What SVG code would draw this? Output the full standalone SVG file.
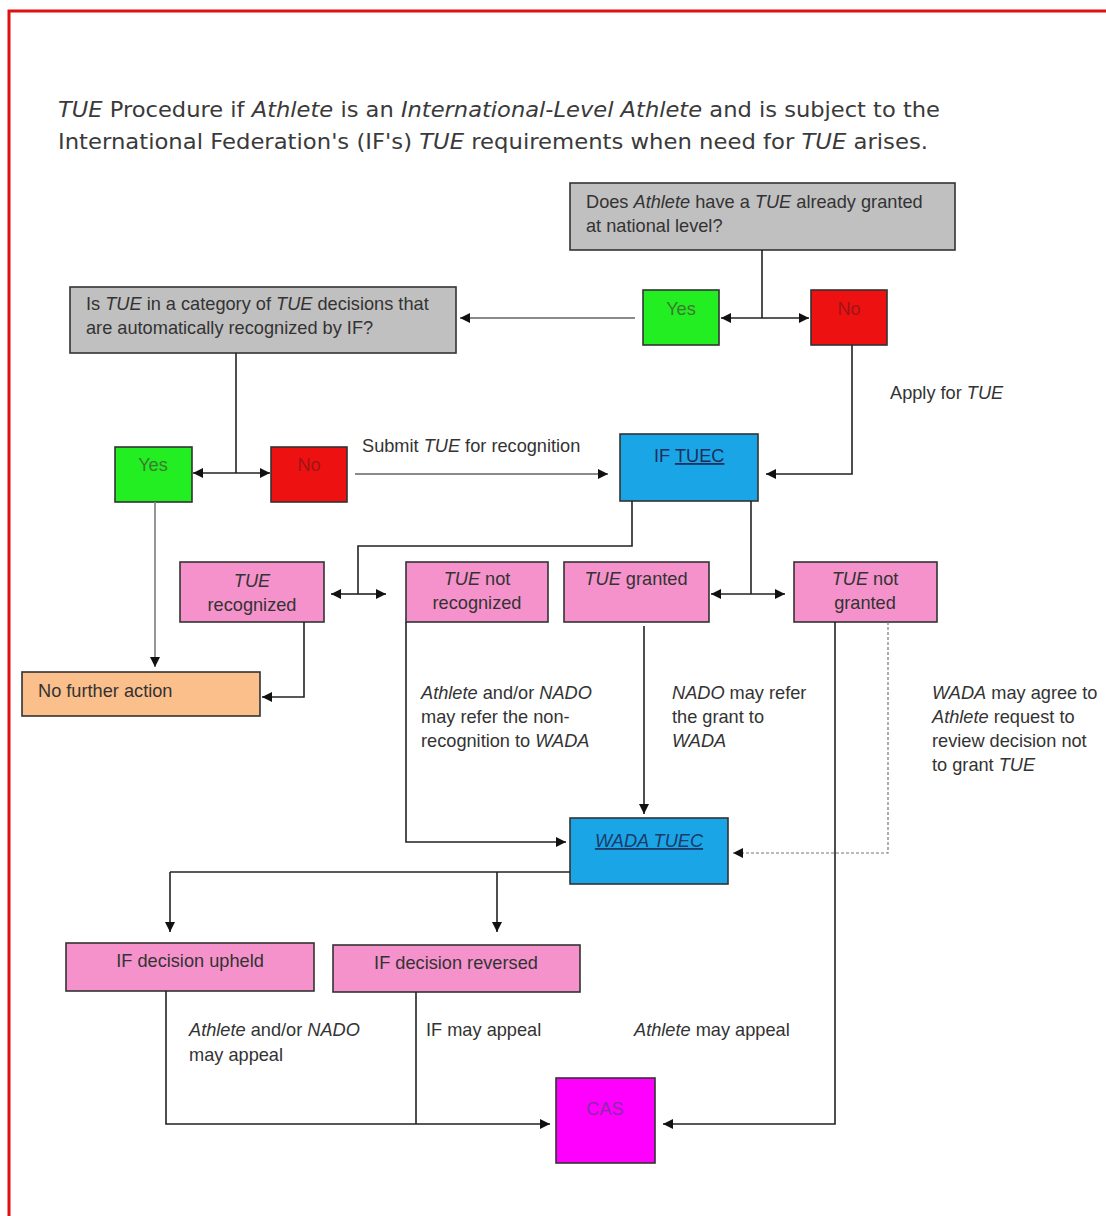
<svg xmlns="http://www.w3.org/2000/svg" width="1106" height="1216" viewBox="0 0 1106 1216">
<defs>
<marker id="ah" viewBox="0 0 10 10" refX="10" refY="5" markerWidth="11" markerHeight="10" markerUnits="userSpaceOnUse" orient="auto">
<path d="M0,0 L10,5 L0,10 z" fill="#111"/>
</marker>
</defs>
<style>
.t{font-family:"Liberation Sans",Arial,sans-serif;font-size:18.2px;fill:#333}
.title{font-family:"DejaVu Sans",Verdana,sans-serif;font-size:21px;fill:#3a3a3a}
.i{font-style:italic}
.c{text-anchor:middle}
.box{stroke:#333;stroke-width:1.6}
.gray{fill:#c0c0c0}
.green{fill:#22ee22}
.red{fill:#ee1111}
.blue{fill:#1aa6e6}
.pink{fill:#f592cc}
.orange{fill:#fbbf8c}
.mag{fill:#ff00ff}
.ln{fill:none;stroke:#222;stroke-width:1.6}
.lg{fill:none;stroke:#8a8a8a;stroke-width:1.8}
.la{marker-end:url(#ah)}
</style>
<rect x="0" y="0" width="1106" height="1216" fill="#fff"/>
<path d="M9,1216 V11 H1106" fill="none" stroke="#dd1111" stroke-width="3"/>

<g id="title">
<text class="title" x="58" y="117" textLength="882" lengthAdjust="spacingAndGlyphs"><tspan class="i">TUE</tspan> Procedure if <tspan class="i">Athlete</tspan> is an <tspan class="i">International-Level Athlete</tspan> and is subject to the</text>
<text class="title" x="58" y="149" textLength="870" lengthAdjust="spacingAndGlyphs">International Federation's (IF's) <tspan class="i">TUE</tspan> requirements when need for <tspan class="i">TUE</tspan> arises.</text>
</g>

<g id="q1">
<rect class="box gray" x="570" y="183" width="385" height="67"/>
<text class="t" x="586" y="208">Does <tspan class="i">Athlete</tspan> have a <tspan class="i">TUE</tspan> already granted</text>
<text class="t" x="586" y="232">at national level?</text>
</g>
<g id="yes1">
<rect class="box green" x="643" y="290" width="76" height="55"/>
<text class="t c" x="681" y="315" style="fill:#3d7a30">Yes</text>
</g>
<g id="no1">
<rect class="box red" x="811" y="290" width="76" height="55"/>
<text class="t c" x="849" y="315" style="fill:#a01515">No</text>
</g>
<g id="q2">
<rect class="box gray" x="70" y="287" width="386" height="66"/>
<text class="t" x="86" y="310">Is <tspan class="i">TUE</tspan> in a category of <tspan class="i">TUE</tspan> decisions that</text>
<text class="t" x="86" y="334">are automatically recognized by IF?</text>
</g>
<g id="yes2">
<rect class="box green" x="115" y="447" width="77" height="55"/>
<text class="t c" x="153" y="471" style="fill:#3d7a30">Yes</text>
</g>
<g id="no2">
<rect class="box red" x="271" y="447" width="76" height="55"/>
<text class="t c" x="309" y="471" style="fill:#a01515">No</text>
</g>
<g id="iftuec">
<rect class="box blue" x="620" y="434" width="138" height="67"/>
<text class="t" x="654" y="462" style="fill:#1d2f5a">IF <tspan text-decoration="underline">TUEC</tspan></text>
</g>
<g id="recognized">
<rect class="box pink" x="180" y="562" width="144" height="60"/>
<text class="t c" x="252" y="587"><tspan class="i">TUE</tspan></text>
<text class="t c" x="252" y="611">recognized</text>
</g>
<g id="notrecognized">
<rect class="box pink" x="406" y="562" width="142" height="60"/>
<text class="t c" x="477" y="585"><tspan class="i">TUE</tspan> not</text>
<text class="t c" x="477" y="609">recognized</text>
</g>
<g id="granted">
<rect class="box pink" x="564" y="562" width="145" height="60"/>
<text class="t c" x="636" y="585"><tspan class="i">TUE</tspan> granted</text>
</g>
<g id="notgranted">
<rect class="box pink" x="794" y="562" width="143" height="60"/>
<text class="t c" x="865" y="585"><tspan class="i">TUE</tspan> not</text>
<text class="t c" x="865" y="609">granted</text>
</g>
<g id="nofurther">
<rect class="box orange" x="22" y="672" width="238" height="44"/>
<text class="t" x="38" y="697">No further action</text>
</g>
<g id="wadatuec">
<rect class="box blue" x="570" y="818" width="158" height="66"/>
<text class="t c i" x="649" y="847" text-decoration="underline" style="fill:#1d3a6a">WADA TUEC</text>
</g>
<g id="upheld">
<rect class="box pink" x="66" y="943" width="248" height="48"/>
<text class="t c" x="190" y="967">IF decision upheld</text>
</g>
<g id="reversed">
<rect class="box pink" x="333" y="945" width="247" height="47"/>
<text class="t c" x="456" y="969">IF decision reversed</text>
</g>
<g id="cas">
<rect class="box mag" x="556" y="1078" width="99" height="85"/>
<text class="t c" x="605" y="1115" style="fill:#8a2aaa">CAS</text>
</g>

<g id="labels">
<text class="t" x="890" y="399">Apply for <tspan class="i">TUE</tspan></text>
<text class="t" x="362" y="452">Submit <tspan class="i">TUE</tspan> for recognition</text>
<text class="t" x="421" y="699"><tspan class="i">Athlete</tspan> and/or <tspan class="i">NADO</tspan></text>
<text class="t" x="421" y="723">may refer the non-</text>
<text class="t" x="421" y="747">recognition to <tspan class="i">WADA</tspan></text>
<text class="t" x="672" y="699"><tspan class="i">NADO</tspan> may refer</text>
<text class="t" x="672" y="723">the grant to</text>
<text class="t" x="672" y="747"><tspan class="i">WADA</tspan></text>
<text class="t" x="932" y="699"><tspan class="i">WADA</tspan> may agree to</text>
<text class="t" x="932" y="723"><tspan class="i">Athlete</tspan> request to</text>
<text class="t" x="932" y="747">review decision not</text>
<text class="t" x="932" y="771">to grant <tspan class="i">TUE</tspan></text>
<text class="t" x="189" y="1036"><tspan class="i">Athlete</tspan> and/or <tspan class="i">NADO</tspan></text>
<text class="t" x="189" y="1061">may appeal</text>
<text class="t" x="426" y="1036">IF may appeal</text>
<text class="t" x="634" y="1036"><tspan class="i">Athlete</tspan> may appeal</text>
</g>

<g id="connectors">
<path class="ln" d="M762,250 V318"/>
<path class="ln la" d="M762,318 H721"/>
<path class="ln la" d="M762,318 H809"/>
<path class="lg la" d="M635,318 H460"/>
<path class="ln" d="M236,353 V473"/>
<path class="ln la" d="M236,473 H193"/>
<path class="ln la" d="M236,473 H270"/>
<path class="lg la" d="M355,474 H608"/>
<path class="ln la" d="M852,345 V474 H766"/>
<path class="ln" d="M632,501 V546 H358 V594"/>
<path class="ln la" d="M358,594 H331"/>
<path class="ln la" d="M358,594 H386"/>
<path class="ln" d="M751,501 V594"/>
<path class="ln la" d="M751,594 H711"/>
<path class="ln la" d="M751,594 H785"/>
<path class="lg la" d="M155,502 V667"/>
<path class="ln la" d="M304,622 V697 H262"/>
<path class="ln la" d="M406,622 V842 H566"/>
<path class="ln la" d="M644,626 V814"/>
<path class="ln la" d="M835,622 V1124 H663"/>
<path class="ln la" d="M888,622 V853 H733" stroke-dasharray="3,2" style="stroke:#777;stroke-width:1.2"/>
<path class="ln" d="M570,872 H170"/>
<path class="ln la" d="M170,872 V932"/>
<path class="ln la" d="M497,872 V932"/>
<path class="ln la" d="M166,991 V1124 H550"/>
<path class="ln" d="M416,992 V1124"/>
</g>
</svg>
